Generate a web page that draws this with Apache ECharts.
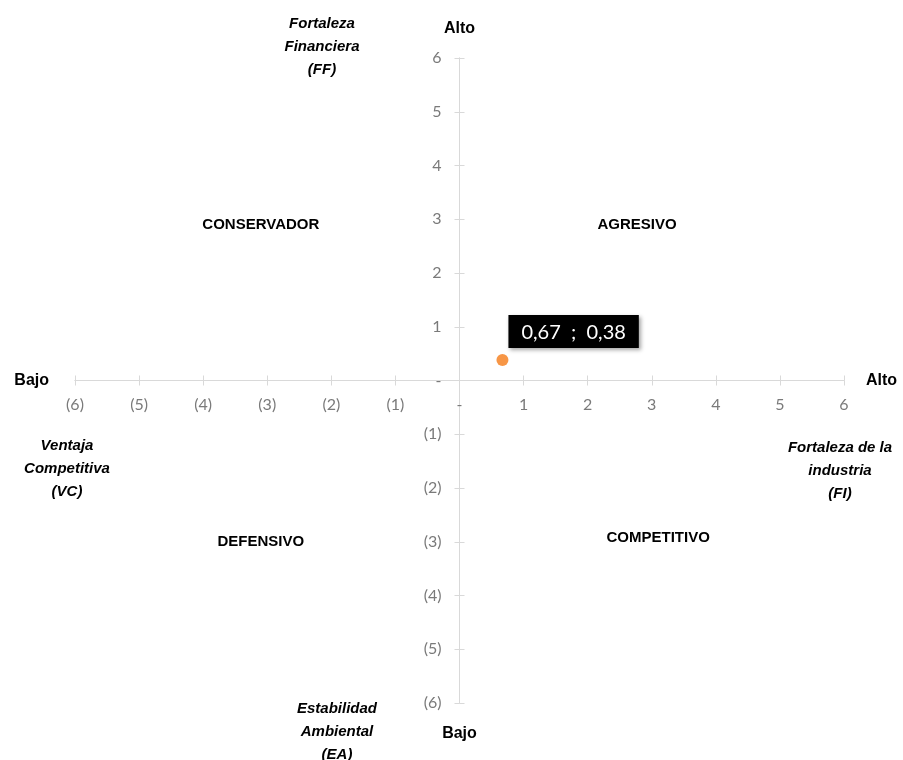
<!DOCTYPE html>
<html><head><meta charset="utf-8">
<script src="https://cdn.jsdelivr.net/npm/echarts@6/dist/echarts.min.js"></script>
<style>html,body{margin:0;padding:0;background:#fff}#c{width:903px;height:760px}</style>
</head><body><div id="c"></div>
<script>
// Data
const point = [0.67, 0.38];
const pointLabel = '0,67  ;  0,38';
const quadrantNames = ['CONSERVADOR', 'AGRESIVO', 'DEFENSIVO', 'COMPETITIVO'];
const quadrantX = [-3.1, 2.77, -3.1, 3.1];
const quadrantY = [2.9, 2.9, -3.0, -2.93];
const axisMin = -6, axisMax = 6, axisStep = 1;

const FONT = 'Lato, "Open Sans", sans-serif';
const BFONT = '"Liberation Sans", Arial, sans-serif';
const GRID = { left: 75, right: 59, top: 58, bottom: 57 };
const W = 903, H = 760;
const gw = W - GRID.left - GRID.right, gh = H - GRID.top - GRID.bottom;
function fmt(v) {
  if (v === 0) return '-';
  if (v < 0) return '(' + (-v) + ')';
  return String(v);
}
const lineStyle = { color: '#d9d9d9', width: 1 };
function mkAxis(isX, primary) {
  return {
    type: 'value', min: axisMin, max: axisMax, interval: axisStep,
    position: isX ? 'bottom' : 'left',
    offset: isX ? -gh / 2 : -gw / 2,
    splitLine: { show: false },
    axisLine: { show: true, onZero: false, lineStyle },
    axisTick: { show: true, inside: !primary, length: 5, lineStyle },
    axisLabel: primary ? { show: true, formatter: fmt, color: '#7a7a7a', fontSize: 16, fontFamily: FONT, margin: isX ? 16 : 18 } : { show: false },
    name: primary ? 'Alto' : 'Bajo',
    nameLocation: primary ? 'end' : 'start',
    nameGap: isX ? (primary ? 22 : 26) : (primary ? 21 : 23),
    nameTextStyle: { color: '#000', fontWeight: 'bold', fontSize: 16, fontFamily: BFONT }
  };
}
const chart = echarts.init(document.getElementById('c'), null, { renderer: 'canvas' });
const italic = { fill: '#000', font: 'italic bold 15px ' + BFONT, textAlign: 'center', textVerticalAlign: 'top', lineHeight: 23 };
chart.setOption({
  animation: false,
  grid: Object.assign({ containLabel: false }, GRID),
  xAxis: [mkAxis(true, true), mkAxis(true, false)],
  yAxis: [mkAxis(false, true), mkAxis(false, false)],
  graphic: [
    { type: 'text', x: 322, y: 12, style: Object.assign({ text: 'Fortaleza\nFinanciera\n(FF)' }, italic) },
    { type: 'text', x: 67, y: 434, style: Object.assign({ text: 'Ventaja\nCompetitiva\n(VC)' }, italic) },
    { type: 'text', x: 840, y: 436, style: Object.assign({ text: 'Fortaleza de la\nindustria\n(FI)' }, italic) },
    { type: 'text', x: 337, y: 697, style: Object.assign({ text: 'Estabilidad\nAmbiental\n(EA)' }, italic) }
  ],
  series: [
    {
      type: 'scatter', xAxisIndex: 0, yAxisIndex: 0,
      data: quadrantNames.map((n, i) => ({ value: [quadrantX[i], quadrantY[i]], name: n })),
      symbolSize: 0, silent: true, itemStyle: { opacity: 1 },
      label: { show: true, position: 'inside', formatter: p => p.name, color: '#000', fontWeight: 'bold', fontSize: 15, fontFamily: BFONT }
    },
    {
      type: 'scatter', xAxisIndex: 0, yAxisIndex: 0,
      data: [point], symbolSize: 12, itemStyle: { color: '#F79646', opacity: 1 },
      label: {
        show: true, position: [12, -6], align: 'left', verticalAlign: 'bottom',
        formatter: pointLabel, color: '#fff', backgroundColor: '#000',
        fontSize: 20, fontFamily: FONT, padding: [7, 13, 6, 13],
        shadowColor: 'rgba(0,0,0,0.35)', shadowBlur: 4, shadowOffsetX: 2, shadowOffsetY: 2
      }
    }
  ]
});
</script></body></html>
